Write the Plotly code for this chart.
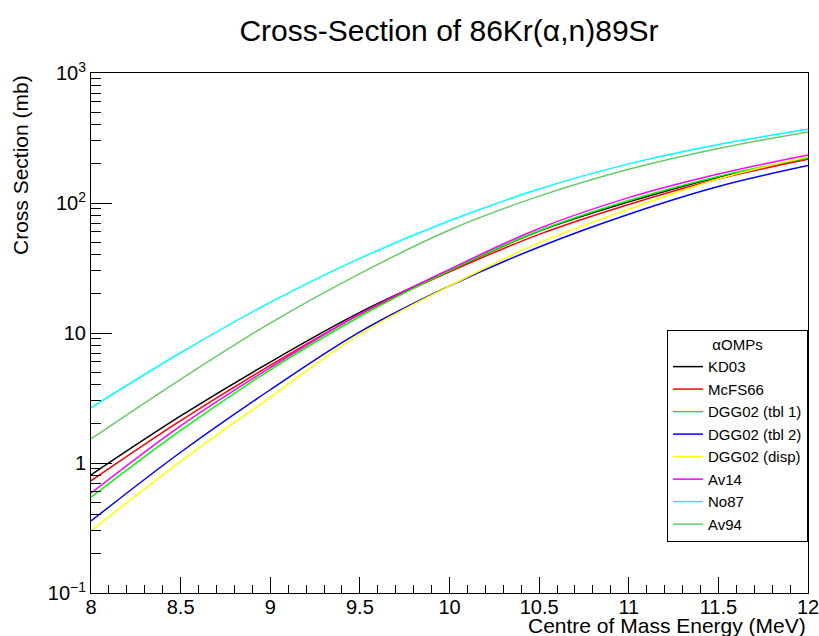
import plotly.graph_objects as go

energy = [8.0, 8.5, 9.0, 9.5, 10.0, 10.5, 11.0, 11.5, 12.0]

kd03 = [0.81, 2.30, 5.98, 14.4, 30.2, 60.8, 102, 158, 219]
mcfs66 = [0.73, 2.12, 5.64, 13.9, 29.5, 57.4, 97.5, 153, 217]
dgg02_t1 = [0.545, 1.78, 5.2, 13.4, 30.2, 61.1, 104.5, 160, 222]
dgg02_t2 = [0.358, 1.21, 3.66, 10.2, 23.0, 45.9, 82, 134, 194]
dgg02_disp = [0.30, 1.03, 3.2, 9.8, 23.0, 49.3, 89.5, 153, 227]
av14 = [0.585, 1.93, 5.41, 14.0, 30.9, 63.7, 110, 167, 234]
no87 = [2.66, 7.05, 17.2, 37.5, 73, 128, 200, 282, 369]
av94 = [1.53, 4.40, 11.9, 28.6, 62, 113, 182, 263, 352]

series_names = ["KD03", "McFS66", "DGG02 (tbl 1)", "DGG02 (tbl 2)", "DGG02 (disp)", "Av14", "No87", "Av94"]
series_values = [kd03, mcfs66, dgg02_t1, dgg02_t2, dgg02_disp, av14, no87, av94]
series_colors = ["#000000", "#ff0000", "#00ff00", "#0000ff", "#ffff00", "#ff00ff", "#00ffff", "#66cc66"]

y_tickvals = [0.1, 1, 10, 100, 1000]
y_ticktext = ["10<sup>\u22121</sup>", "1", "10", "10<sup>2</sup>", "10<sup>3</sup>"]
x_tickvals = [8, 8.5, 9, 9.5, 10, 10.5, 11, 11.5, 12]
x_ticktext = ["8", "8.5", "9", "9.5", "10", "10.5", "11", "11.5", "12"]

FONT = "Liberation Sans, Arial, sans-serif"

fig = go.Figure()
for name, vals, col in zip(series_names, series_values, series_colors):
    fig.add_trace(go.Scatter(x=energy, y=vals, name=name, mode="lines",
                             line=dict(color=col, width=1.5, shape="spline")))

fig.update_layout(
    width=819, height=636,
    margin=dict(l=91, r=11, t=73, b=43, autoexpand=False),
    paper_bgcolor="white", plot_bgcolor="white",
    font=dict(family=FONT, size=20, color="black"),
    title=dict(text="Cross-Section of 86Kr(\u03b1,n)89Sr", x=449/819, xanchor="center",
               y=1 - 30/636, yanchor="middle", font=dict(size=30, family=FONT)),
    showlegend=True,
    legend=dict(x=1.0, xanchor="right", y=0.506, yanchor="top",
                bgcolor="white", bordercolor="black", borderwidth=1,
                font=dict(size=15, family=FONT),
                title=dict(text="\u03b1OMPs", side="top center", font=dict(size=15, family=FONT)),
                tracegroupgap=0, itemwidth=30),
)

fig.update_xaxes(range=[8, 12], tickvals=x_tickvals, ticktext=x_ticktext,
                 ticks="inside", ticklen=16, tickwidth=1, tickcolor="black",
                 minor=dict(dtick=0.1, ticks="inside", ticklen=8, tickcolor="black", showgrid=False),
                 showline=True, linecolor="black", linewidth=1, mirror=True, automargin=False,
                 ticklabeloverflow="allow", ticklabelstandoff=-4,
                 showgrid=False, zeroline=False, tickfont=dict(size=20))
fig.update_yaxes(type="log", range=[-1, 3], tickvals=y_tickvals, ticktext=y_ticktext,
                 ticks="inside", ticklen=21, tickwidth=1, tickcolor="black",
                 minor=dict(dtick="D1", ticks="inside", ticklen=10, tickcolor="black", showgrid=False),
                 showline=True, linecolor="black", linewidth=1, mirror=True, automargin=False,
                 ticklabeloverflow="allow",
                 showgrid=False, zeroline=False, tickfont=dict(size=20))

fig.add_annotation(text="Centre of Mass Energy (MeV)", xref="paper", yref="paper",
                   x=1.0, xanchor="right", y=(593 - 625) / 520, yanchor="middle",
                   showarrow=False, font=dict(size=21, family=FONT))
fig.add_annotation(text="Cross Section (mb)", xref="paper", yref="paper",
                   x=(20 - 91) / 717, xanchor="center", y=1.0, yanchor="top",
                   textangle=-90, showarrow=False, font=dict(size=21, family=FONT))

fig.write_html("out.html")
